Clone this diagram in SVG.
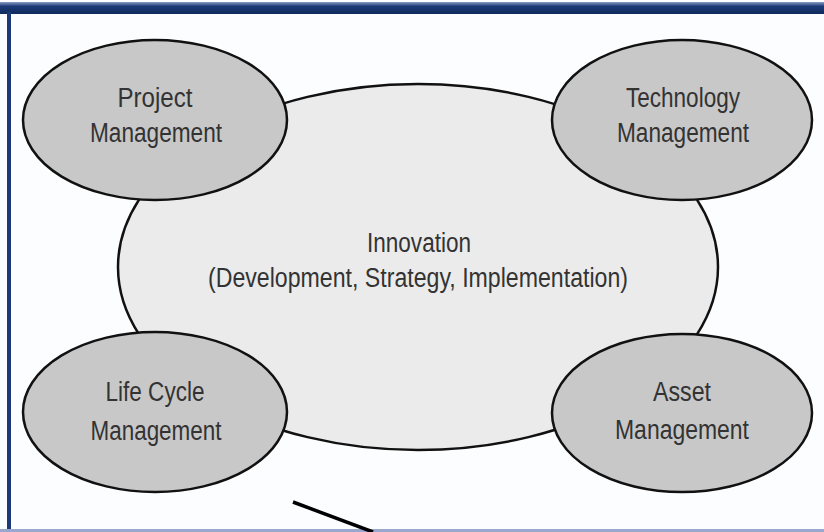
<svg xmlns="http://www.w3.org/2000/svg" width="824" height="532" viewBox="0 0 824 532">
<defs>
<linearGradient id="topbar" x1="0" y1="0" x2="0" y2="1">
<stop offset="0" stop-color="#8a9cc4"/>
<stop offset="0.35" stop-color="#1d3a78"/>
<stop offset="1" stop-color="#0f2a5c"/>
</linearGradient>
<style>
.small{fill:#c8c8c8;stroke:#111;stroke-width:2.5}
.big{fill:#ebebeb;stroke:#111;stroke-width:2.5}
.t{font-family:"Liberation Sans Narrow","Liberation Sans",Arial,sans-serif;font-size:27px;fill:#333;text-anchor:middle}
</style>
</defs>
<rect x="0" y="0" width="824" height="532" fill="#fcfdfe"/>
<rect x="0" y="2" width="824" height="12" fill="url(#topbar)"/>
<rect x="7" y="12" width="4" height="520" fill="#1d3a78"/>
<rect x="0" y="529" width="824" height="3" fill="#9aa8d0"/>
<g id="innovation">
<ellipse class="big" cx="418" cy="267" rx="300" ry="183"/>
<text class="t" x="419" y="252" textLength="104" lengthAdjust="spacingAndGlyphs">Innovation</text>
<text class="t" x="418" y="287" textLength="420" lengthAdjust="spacingAndGlyphs">(Development, Strategy, Implementation)</text>
</g>
<g id="project">
<ellipse class="small" cx="155" cy="120" rx="132" ry="80"/>
<text class="t" x="155" y="107" textLength="75" lengthAdjust="spacingAndGlyphs">Project</text>
<text class="t" x="156" y="142" textLength="132" lengthAdjust="spacingAndGlyphs">Management</text>
</g>
<g id="technology">
<ellipse class="small" cx="682" cy="120" rx="130" ry="80"/>
<text class="t" x="683" y="107" textLength="114" lengthAdjust="spacingAndGlyphs">Technology</text>
<text class="t" x="683" y="142" textLength="132" lengthAdjust="spacingAndGlyphs">Management</text>
</g>
<g id="lifecycle">
<ellipse class="small" cx="155" cy="412" rx="132" ry="80"/>
<text class="t" x="155" y="401" textLength="99" lengthAdjust="spacingAndGlyphs">Life Cycle</text>
<text class="t" x="156" y="440" textLength="131" lengthAdjust="spacingAndGlyphs">Management</text>
</g>
<g id="asset">
<ellipse class="small" cx="682" cy="413" rx="130" ry="79"/>
<text class="t" x="682" y="401" textLength="58" lengthAdjust="spacingAndGlyphs">Asset</text>
<text class="t" x="682" y="439" textLength="134" lengthAdjust="spacingAndGlyphs">Management</text>
</g>
<g id="connectors">
<line x1="293" y1="502" x2="373" y2="532" stroke="#000" stroke-width="3.5"/>
</g>
</svg>
